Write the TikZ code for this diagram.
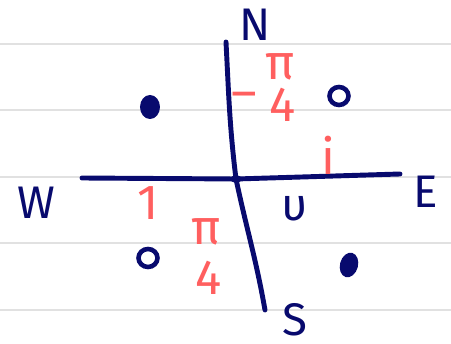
\documentclass[tikz,border=0pt]{standalone}
\usepackage{fontspec}
\setmainfont{Fira Sans}
\usepackage{tikz}
\usetikzlibrary{arrows.meta,calc,positioning}
\definecolor{cink}{RGB}{8,10,110}
\definecolor{cred}{RGB}{255,95,95}
\definecolor{crule}{RGB}{225,225,225}
\tikzset{
  rule/.style={crule,line width=1.1pt},
  axis/.style={cink,line width=2.8pt,line cap=round,line join=round},
  pole/.style={cink,font=\fontsize{26}{26}\selectfont,inner sep=0pt},
  val/.style={text=cred,font=\fontsize{28}{28}\selectfont,inner sep=0pt},
  full/.style={fill=cink},
  hollow/.style={draw=cink,line width=2.6pt}
}

\begin{document}
\begin{tikzpicture}[x=0.02cm,y=-0.02cm]
\useasboundingbox (0,0) rectangle (451,344);
% ---------------- notebook rules ----------------
\foreach \y in {44,110,177,243,310}
  \draw[rule] (0,\y) -- (451,\y);
% ---------------- axes ----------------
\coordinate (top) at (226,42);
\coordinate (bot) at (265,310);
\coordinate (lft) at (82,178);
\coordinate (rgt) at (400,174);
\coordinate (o) at (236,179);
\draw[axis] (top) to[out=-87,in=97] (o) to[out=-78,in=100] (bot);
\draw[axis] (lft) -- (o) -- (rgt);
\fill[cink] (o) ellipse (6 and 3.5);
% ---------------- poles ----------------
\node[pole] (N) at (255,25) {N};
\node[pole] (E) at (426,192) {E};
\node[pole] (S) at (295,320) {S};
\node[pole] (W) at (36,203) {W};
\node[pole] (v) at (295,209) {υ};
% ---------------- red values ----------------
\node[val] (m) at (244,101) {–};
\node[val] (p1) at (280,67) {π};
\node[val] (f1) at (283,105) {4};
\node[val] (i) at (328,155) {i};
\node[val] (one) at (148,203) {1};
\node[val] (p2) at (206,232) {π};
\node[val] (f2) at (209,278) {4};
% ---------------- points ----------------
\fill[full] (150,107) ellipse (10 and 12);
\fill[full,rotate around={-15:(349,265)}] (349,265) ellipse (9 and 12.5);
\draw[hollow] (339,96) ellipse (9.5 and 9);
\draw[hollow] (148,258) ellipse (9.5 and 9);
\end{tikzpicture}
\end{document}
